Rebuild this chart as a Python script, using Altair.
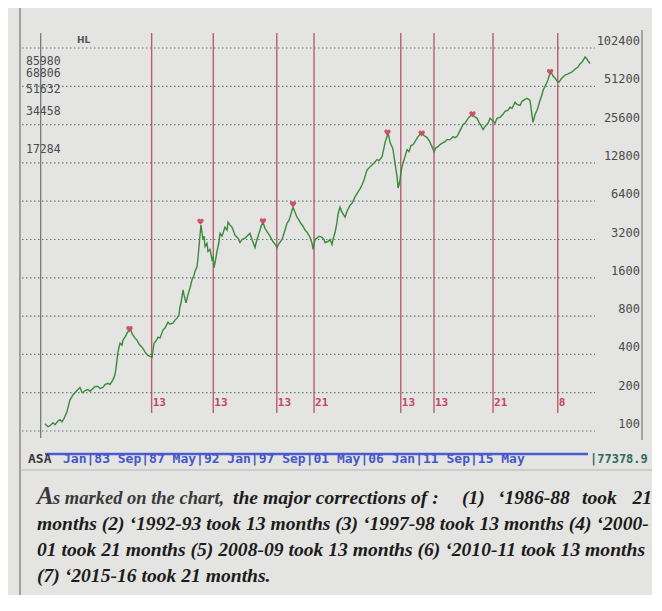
import altair as alt
import pandas as pd

# ---------------- data ----------------
years = [1979.41, 1979.65, 1979.82, 1980.06, 1980.22, 1980.47, 1980.63, 1980.79, 1980.95, 1981.20,
         1981.36, 1981.44, 1981.60, 1981.69, 1981.85, 1982.01, 1982.17, 1982.25, 1982.42, 1982.50,
         1982.66, 1982.90, 1983.07, 1983.31, 1983.47, 1983.72, 1983.88, 1984.12, 1984.29, 1984.53,
         1984.69, 1984.86, 1985.02, 1985.10, 1985.18, 1985.26, 1985.34, 1985.51, 1985.67, 1985.75,
         1985.91, 1986.08, 1986.24, 1986.32, 1986.48, 1986.56, 1986.73, 1986.89, 1987.05, 1987.29,
         1987.46, 1987.54, 1987.70, 1987.78, 1987.95, 1988.11, 1988.27, 1988.43, 1988.60, 1988.76,
         1989.00, 1989.16, 1989.41, 1989.57, 1989.81, 1989.98, 1990.14, 1990.30, 1990.38, 1990.47,
         1990.63, 1990.71, 1990.87, 1991.03, 1991.20, 1991.36, 1991.52, 1991.60, 1991.77, 1991.85,
         1991.93, 1992.01, 1992.09, 1992.17, 1992.25, 1992.34, 1992.42, 1992.58, 1992.66, 1992.82,
         1992.99, 1993.07, 1993.15, 1993.31, 1993.39, 1993.55, 1993.64, 1993.80, 1994.04, 1994.21,
         1994.29, 1994.45, 1994.61, 1994.77, 1994.86, 1995.10, 1995.26, 1995.42, 1995.67, 1995.83,
         1996.07, 1996.24, 1996.48, 1996.64, 1996.89, 1996.97, 1997.13, 1997.29, 1997.54, 1997.70,
         1997.94, 1998.11, 1998.27, 1998.43, 1998.68, 1998.84, 1999.08, 1999.25, 1999.33, 1999.49,
         1999.57, 1999.73, 1999.90, 2000.06, 2000.14, 2000.38, 2000.55, 2000.71, 2000.95, 2001.12,
         2001.20, 2001.36, 2001.52, 2001.69, 2001.93, 2002.09, 2002.17, 2002.42, 2002.58, 2002.74,
         2002.82, 2002.99, 2003.15, 2003.23, 2003.39, 2003.55, 2003.80, 2003.96, 2004.21, 2004.37,
         2004.61, 2004.86, 2005.02, 2005.18, 2005.34, 2005.59, 2005.75, 2005.99, 2006.16, 2006.40,
         2006.56, 2006.81, 2006.97, 2007.05, 2007.21, 2007.29, 2007.38, 2007.46, 2007.62, 2007.70,
         2007.86, 2008.03, 2008.11, 2008.19, 2008.27, 2008.35, 2008.43, 2008.60, 2008.84, 2009.00,
         2009.16, 2009.33, 2009.49, 2009.73, 2009.90, 2010.06, 2010.22, 2010.47, 2010.63, 2010.87,
         2011.03, 2011.20, 2011.36, 2011.52, 2011.77, 2011.93, 2012.09, 2012.34, 2012.58, 2012.74,
         2012.90, 2013.15, 2013.39, 2013.55, 2013.80, 2013.96, 2014.12, 2014.29, 2014.53, 2014.69,
         2014.86, 2015.02, 2015.18, 2015.42, 2015.59, 2015.75, 2015.99, 2016.16, 2016.40, 2016.64,
         2016.81, 2017.05, 2017.21, 2017.38, 2017.62, 2017.78, 2018.03, 2018.19, 2018.43, 2018.60,
         2018.84, 2018.92, 2019.00, 2019.08, 2019.25, 2019.41, 2019.49, 2019.65, 2019.82, 2019.90,
         2020.06, 2020.30, 2020.38, 2020.55, 2020.71, 2020.87, 2021.03, 2021.20, 2021.36, 2021.52,
         2021.69, 2021.93, 2022.09, 2022.25, 2022.50, 2022.74, 2022.90, 2023.07, 2023.23, 2023.31,
         2023.47, 2023.55, 2023.72]

values = [114, 108, 110, 116, 112, 120, 123, 118, 125, 142,
          164, 176, 186, 193, 200, 208, 216, 220, 201, 200,
          208, 212, 205, 216, 224, 224, 216, 220, 232, 237,
          232, 245, 264, 278, 310, 359, 417, 490, 474, 518,
          547, 588, 621, 644, 588, 567, 537, 518, 482, 456,
          432, 417, 400, 393, 386, 379, 490, 509, 547, 537,
          621, 644, 718, 692, 705, 744, 771, 819, 947, 1018,
          1288, 1176, 1018, 1176, 1336, 1542, 1667, 1792, 1962, 2310,
          2819, 3456, 4147, 3648, 3200, 3398, 2819, 2976, 2576, 2672,
          2227, 2310, 1926, 2310, 2576, 3030, 3584, 3398, 4000, 3789,
          4378, 4147, 4000, 3648, 3456, 3277, 3030, 3200, 3277, 3398,
          3584, 3200, 2768, 3200, 3789, 4070, 4378, 3923, 3584, 3398,
          3085, 2925, 2768, 2976, 3200, 3584, 4294, 4538, 4794, 5440,
          5741, 5248, 4794, 4538, 4378, 4070, 3789, 3648, 3334, 2976,
          2672, 3200, 3277, 3398, 3334, 3200, 3030, 3085, 3200, 2925,
          3200, 3648, 4378, 5056, 5741, 5248, 4794, 5344, 5952, 6170,
          6912, 7578, 8000, 8589, 9408, 11277, 11699, 12339, 12800, 13594,
          13338, 14336, 16870, 18483, 20608, 22144, 20224, 18483, 17178, 16282,
          12800, 9933, 8141, 8589, 9408, 10880, 11904, 13594, 16282, 15693,
          17510, 17818, 18816, 20608, 21376, 22144, 20992, 20224, 19174, 17178,
          15693, 16870, 17178, 17818, 18483, 18816, 19507, 19507, 20608, 20224,
          20608, 22963, 25600, 26214, 28672, 29747, 30822, 29747, 28672, 26675,
          25139, 23398, 24678, 26214, 28672, 27648, 26214, 28672, 29184, 30822,
          32563, 33178, 35021, 34355, 38349, 36966, 36301, 39014, 40448, 41216,
          39731, 34355, 30310, 26675, 30822, 33178, 35021, 39731, 44288, 47616,
          51200, 57344, 61645, 66355, 61645, 59494, 56320, 55296, 58368, 60621,
          62771, 64000, 65126, 66355, 70042, 72602, 76698, 79462, 83968, 87040,
          83968, 80896, 77379]

correction_years = [1988.08, 1993.09, 1998.25, 2001.28, 2008.33, 2011.03, 2015.83, 2021.09]
correction_labels = ["13", "13", "13", "21", "13", "13", "21", "8"]

peak_years = [1986.28, 1992.05, 1997.13, 1999.57, 2007.25, 2010.03, 2014.16, 2020.47]
peak_values = [632, 4416, 4450, 6061, 22144, 21760, 30822, 66355]

grid_values = [100, 200, 400, 800, 1600, 3200, 6400, 12800, 25600, 51200, 102400]
hl_values = [85980, 68806, 51632, 34458, 17284]
start_year = [1979.06]

bar_symbol = "ASA"
bar_dates = "Jan|83 Sep|87 May|92 Jan|97 Sep|01 May|06 Jan|11 Sep|15 May"
bar_last = "|77378.9"

caption_a = "A"
caption_1a = "s marked on the chart,"
caption_1b = "the major corrections of :"
caption_1c = ["(1)", "\u20181986-88", "took", "21"]
caption_2 = "months (2) \u20181992-93 took 13 months (3) \u20181997-98 took 13 months (4) \u20182000-"
caption_3 = "01 took 21 months (5) 2008-09 took 13 months (6) \u20182010-11 took 13 months"
caption_4 = "(7) \u20182015-16 took 21 months."

# ---------------- chart ----------------
W, H = 620, 410
xs = alt.Scale(domain=[1977.54, 2027.94], nice=False, zero=False)
ys = alt.Scale(type="log", base=2, domain=[85, 141800], nice=False)

price = pd.DataFrame({"year": years, "value": values})
corr = pd.DataFrame({"year": correction_years, "label": correction_labels})
peaks = pd.DataFrame({"year": peak_years, "value": peak_values})
grid = pd.DataFrame({"value": grid_values, "label": [str(v) for v in grid_values]})
hl = pd.DataFrame({"value": hl_values, "label": [str(v) for v in hl_values]})
start = pd.DataFrame({"year": start_year})

X = lambda: alt.X("year:Q", scale=xs, axis=None)
Y = lambda: alt.Y("value:Q", scale=ys, axis=None)

gridlines = alt.Chart(grid).mark_rule(color="#5f7f6c", strokeDash=[1.5, 2.5], strokeWidth=1.2).encode(
    y=Y(), x=alt.value(0), x2=alt.value(573))
gridlabels = alt.Chart(grid).mark_text(align="right", baseline="bottom", font="DejaVu Sans Mono",
                                        fontSize=12, color="#4a4a4a").encode(
    y=Y(), x=alt.value(618), text="label:N")
hllabels = alt.Chart(hl).mark_text(align="left", baseline="middle", dy=4, font="DejaVu Sans Mono",
                                    fontSize=11.5, color="#4a4a4a").encode(
    y=Y(), x=alt.value(4), text="label:N")

startline = alt.Chart(start).mark_rule(color="#6e6e6e", strokeWidth=1.2).encode(
    x=X(), y=alt.value(3), y2=alt.value(408))
redlines = alt.Chart(corr).mark_rule(color="#b3455f", strokeWidth=1.4, opacity=0.85).encode(
    x=X(), y=alt.value(3), y2=alt.value(383))
redlabels = alt.Chart(corr).mark_text(align="left", baseline="middle", dx=1, font="DejaVu Sans Mono",
                                       fontSize=11, fontWeight="bold", color="#c24462").encode(
    x=X(), y=alt.value(373), text="label:N")

line = alt.Chart(price).mark_line(color="#3b8a3b", strokeWidth=1.4).encode(x=X(), y=Y())

heart = ("M0,0.9 L-0.85,0 C-1.1,-0.3 -0.9,-0.9 -0.45,-0.9 C-0.2,-0.9 0,-0.7 0,-0.5 "
         "C0,-0.7 0.2,-0.9 0.45,-0.9 C0.9,-0.9 1.1,-0.3 0.85,0 Z")
markers = alt.Chart(peaks).mark_point(shape=heart, filled=True, size=45, color="#cc4a63",
                                      opacity=0.95).encode(x=X(), y=Y())


def txt(text, x, y, **kw):
    return alt.Chart(pd.DataFrame({"t": [text]})).mark_text(**kw).encode(
        x=alt.value(x), y=alt.value(y), text="t:N")


def frame(x=None, x2=None, y=None, y2=None, **kw):
    enc = {}
    for k, v in (("x", x), ("x2", x2), ("y", y), ("y2", y2)):
        if v is not None:
            enc[k] = alt.value(v)
    return alt.Chart(pd.DataFrame({"d": [0]})).mark_rule(**kw).encode(**enc)


decor = [
    frame(x=-2, y=-22, y2=565, color="#8a8a8a", strokeWidth=1.5),
    frame(x=620, y=0, y2=410, color="#7a7a7a", strokeWidth=1.2),
    frame(x=-2, x2=632, y=440, color="#b5b5b5", strokeWidth=1),
    frame(x=23, x2=566, y=424, color="#4a5cd0", strokeWidth=2.5),
]

mono = dict(font="DejaVu Sans Mono", fontSize=13, fontWeight="bold", baseline="middle", align="left")
fs = 19.6
bold = dict(font="Liberation Serif", fontStyle="italic", fontWeight="bold", baseline="alphabetic",
            color="#1c1c1c", fontSize=fs)
light = dict(font="Liberation Serif", fontStyle="italic", fontWeight="bold",
             baseline="alphabetic", color="#3a3a3a", align="left")

texts = [
    txt("HL", 55, 10, font="DejaVu Sans", fontSize=9, fontWeight="bold", color="#555555", align="left"),
    txt(bar_symbol, 6, 429, color="#3a3a3a", **mono),
    txt(bar_dates, 41, 429, color="#4557c8", **mono),
    txt(bar_last, 568, 429, color="#2f6b5f", font="DejaVu Sans Mono", fontSize=12, fontWeight="bold",
        baseline="middle", align="left"),
    txt(caption_a, 15, 474, fontSize=25, **light),
    txt(caption_1a, 31, 474, fontSize=18.5, **light),
    txt(caption_1b, 211, 474, align="left", **bold),
    txt(caption_1c[0], 440, 474, align="left", **bold),
    txt(caption_1c[1], 476, 474, align="left", **bold),
    txt(caption_1c[2], 560, 474, align="left", **bold),
    txt(caption_1c[3], 630, 474, align="right", **bold),
    txt(caption_2, 15, 500, align="left", **bold),
    txt(caption_3, 15, 526, align="left", **bold),
    txt(caption_4, 15, 552, align="left", **bold),
]

chart = alt.layer(
    gridlines, gridlabels, hllabels, startline, redlines, redlabels, line, markers, *decor, *texts
).properties(
    width=W, height=H,
    padding={"left": 14, "top": 22, "right": 10, "bottom": 155},
    autosize=alt.AutoSizeParams(type="none"),
    background="#e4e4e2",
).configure_view(stroke=None)

chart.save("out.html", embed_options={"renderer": "svg", "actions": False})
